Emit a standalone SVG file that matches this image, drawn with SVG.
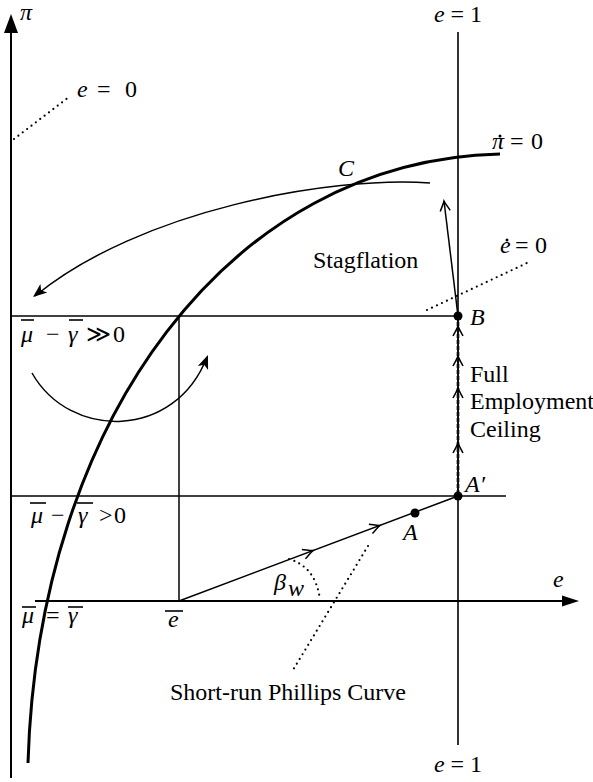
<svg xmlns="http://www.w3.org/2000/svg" width="593" height="782" viewBox="0 0 593 782">
<style>
text{font-family:"Liberation Serif","Times New Roman",serif;font-size:24px;fill:#000}
.i{font-style:italic}
.thin{fill:none;stroke:#000;stroke-width:1.5}
.axis{fill:none;stroke:#000;stroke-width:2}
.thick{fill:none;stroke:#000;stroke-width:3}
.dot{fill:none;stroke:#000;stroke-width:2.2;stroke-linecap:round;stroke-dasharray:0 5.5}
.bar{stroke:#000;stroke-width:1.6}
.pt{fill:#000}
</style>
<defs>
<path id="v" d="M-5,10 C-3,6 -1,3 0,0 C1,3 3,6 5,10" fill="none" stroke="#000" stroke-width="1.5"/>
<path id="st" d="M0,0 L-5.5,14 L0,10.5 L5.5,14 Z" fill="#000"/>
</defs>

<g id="axes">
<line class="axis" x1="11" y1="778" x2="11" y2="30"/>
<polygon points="11,14 4,33 18,33" fill="#000"/>
<line class="axis" x1="35" y1="601" x2="565" y2="601"/>
<polygon points="579,601 562,595.5 562,606.5" fill="#000"/>
<text x="20" y="20" class="i" font-size="19">π</text>
<text x="553" y="587" class="i">e</text>
</g>

<g id="full-employment-line">
<line x1="458" y1="32" x2="458" y2="745" stroke="#000" stroke-width="1.6"/>
<line x1="458" y1="322" x2="458" y2="494" stroke="#333" stroke-width="2.8" stroke-dasharray="4 2"/>
<line x1="458" y1="316" x2="458" y2="496" stroke="#000" stroke-width="1.4"/>
<text x="458" y="22" text-anchor="middle"><tspan class="i">e</tspan> = 1</text>
<text x="458" y="772" text-anchor="middle"><tspan class="i">e</tspan> = 1</text>
</g>

<g id="grid-lines">
<line class="thin" x1="11" y1="316" x2="458" y2="316"/>
<line class="thin" x1="11" y1="496" x2="506" y2="496"/>
<line class="thin" x1="179" y1="316" x2="179" y2="601"/>
</g>

<g id="pi-dot-zero-curve">
<path class="thick" d="M28,763 C38,420 230,160 500,154"/>
<text x="492" y="149" class="i" font-size="22">π</text>
<circle cx="500" cy="136" r="1.5" fill="#000"/>
<text x="510" y="149">=</text>
<text x="531" y="149">0</text>
</g>

<g id="e-zero-line">
<path class="dot" d="M14,139 L69,97"/>
<text x="77" y="97" class="i">e</text>
<text x="97" y="97">=</text>
<text x="125" y="97">0</text>
</g>

<g id="e-dot-zero-line">
<path class="dot" d="M427,310 L527,263"/>
<text x="500" y="253" class="i">e</text>
<circle cx="507" cy="240" r="1.5" fill="#000"/>
<text x="515" y="253">=</text>
<text x="535" y="253">0</text>
</g>

<g id="connectors">
<path class="thin" d="M430,183 C330,176 140,210 35,296"/>
<use href="#st" transform="translate(33,297) rotate(-129.1)"/>
<path class="thin" d="M32,373 C70,440 175,440 207,357"/>
<use href="#st" transform="translate(208,355) rotate(21.2)"/>
<line class="thin" x1="458" y1="316" x2="444" y2="201"/>
<use href="#v" transform="translate(444,201) rotate(-6.9)"/>
<line class="thin" x1="179" y1="601" x2="458" y2="496" stroke-width="1.7"/>
<use href="#v" transform="translate(313,550.6) rotate(69.4)"/>
<use href="#v" transform="translate(380,525.4) rotate(69.4)"/>
<use href="#v" transform="translate(458,326)"/>
<use href="#v" transform="translate(458,356)"/>
<use href="#v" transform="translate(458,388)"/>
<use href="#v" transform="translate(458,443)"/>
<path class="dot" d="M289,559 Q316,567 320,600"/>
<path class="dot" d="M368,546 L293,670"/>
</g>

<g id="point-C"><text x="338" y="176" class="i" font-size="22">C</text></g>
<g id="point-B"><circle class="pt" cx="458" cy="316" r="4.5"/><text x="470" y="325" class="i" font-size="22">B</text></g>
<g id="point-A-prime"><circle class="pt" cx="458" cy="496" r="4.5"/><text x="465" y="492" class="i" font-size="22">A′</text></g>
<g id="point-A"><circle class="pt" cx="415" cy="513" r="4.5"/><text x="403" y="540" class="i" font-size="22">A</text></g>

<g id="label-stagflation"><text x="313" y="268">Stagflation</text></g>
<g id="label-ceiling">
<text x="470" y="382">Full</text>
<text x="470" y="409">Employment</text>
<text x="470" y="437">Ceiling</text>
</g>
<g id="label-phillips"><text x="170" y="700">Short-run Phillips Curve</text></g>
<g id="label-beta"><text x="274" y="590" class="i">β</text><text x="288" y="596" class="i" font-size="16">w</text></g>

<g id="label-gg0">
<text x="21" y="342" class="i">μ</text><line class="bar" x1="21" y1="320" x2="34" y2="320"/>
<text x="46" y="342">−</text>
<text x="68" y="342" class="i">γ</text><line class="bar" x1="69" y1="320" x2="83" y2="320"/>
<text x="86" y="342">≫</text>
<text x="113" y="342">0</text>
</g>
<g id="label-g0">
<text x="31" y="523" class="i">μ</text><line class="bar" x1="30" y1="503" x2="46" y2="503"/>
<text x="51" y="523">−</text>
<text x="78" y="523" class="i">γ</text><line class="bar" x1="77" y1="503" x2="93" y2="503"/>
<text x="99" y="523">&gt;</text>
<text x="114" y="523">0</text>
</g>
<g id="label-eq">
<text x="22" y="623" class="i">μ</text><line class="bar" x1="22" y1="607" x2="36" y2="607"/>
<text x="46" y="623">=</text>
<text x="68" y="623" class="i">γ</text><line class="bar" x1="68" y1="607" x2="83" y2="607"/>
</g>
<g id="label-ebar">
<text x="168" y="627" class="i">e</text><line class="bar" x1="165" y1="611" x2="183" y2="611"/>
</g>
</svg>
